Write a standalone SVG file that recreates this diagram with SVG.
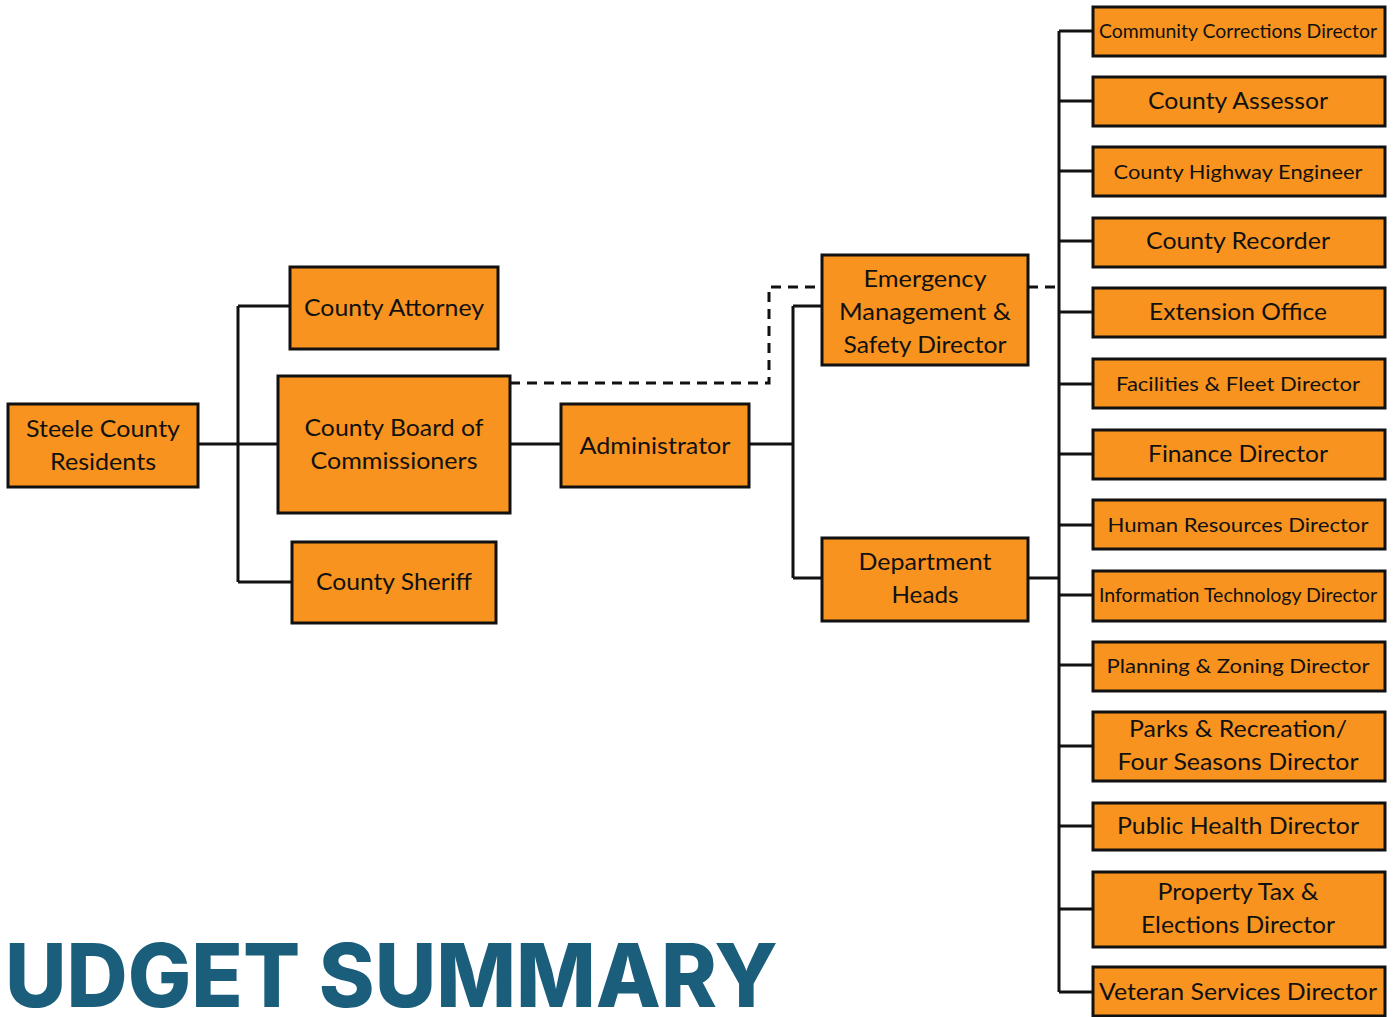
<svg xmlns="http://www.w3.org/2000/svg" width="1396" height="1017" viewBox="0 0 1396 1017">
<style>
.box{fill:#F8931F;stroke:#111;stroke-width:3}
.t{font-family:Lato,"Open Sans","Liberation Sans",sans-serif;font-size:24px;fill:#111;text-anchor:middle}
.s{font-size:20px}
.c{fill:none;stroke:#111;stroke-width:3}
.d{fill:none;stroke:#111;stroke-width:3;stroke-dasharray:10 7}
.title{font-family:Inter,"Open Sans","Liberation Sans",sans-serif;font-weight:800;font-size:88px;fill:#1A5E7C}
</style>
<rect width="1396" height="1017" fill="#fff"/>
<g id="connectors">
<path class="c" d="M198 444H278M238 306V582M238 306H290M238 582H292"/>
<path class="c" d="M510 444H561M749 444H793M793 306V578M793 306H822M793 578H822"/>
<path class="c" d="M1028 578H1059M1059 31V992"/>
<path class="c" d="M1059 31H1093M1059 101H1093M1059 171H1093M1059 241H1093M1059 312H1093M1059 384H1093M1059 454H1093M1059 525H1093M1059 595H1093M1059 665H1093M1059 746H1093M1059 826H1093M1059 909H1093M1059 992H1093"/>
<path class="d" d="M510 383H769V287H822M1028 287H1059"/>
</g>
<g id="residents"><rect class="box" x="8" y="404" width="190" height="83"/><text class="t" x="103" y="437" textLength="154" lengthAdjust="spacingAndGlyphs">Steele County</text><text class="t" x="103" y="470" textLength="106" lengthAdjust="spacingAndGlyphs">Residents</text></g>
<g id="attorney"><rect class="box" x="290" y="267" width="208" height="82"/><text class="t" x="394" y="316" textLength="180" lengthAdjust="spacingAndGlyphs">County Attorney</text></g>
<g id="board"><rect class="box" x="278" y="376" width="232" height="137"/><text class="t" x="394" y="436" textLength="179" lengthAdjust="spacingAndGlyphs">County Board of</text><text class="t" x="394" y="469" textLength="167" lengthAdjust="spacingAndGlyphs">Commissioners</text></g>
<g id="sheriff"><rect class="box" x="292" y="542" width="204" height="81"/><text class="t" x="394" y="590" textLength="156" lengthAdjust="spacingAndGlyphs">County Sheriff</text></g>
<g id="administrator"><rect class="box" x="561" y="404" width="188" height="83"/><text class="t" x="655" y="454" textLength="151" lengthAdjust="spacingAndGlyphs">Administrator</text></g>
<g id="emergency"><rect class="box" x="822" y="255" width="206" height="110"/><text class="t" x="925" y="287" textLength="123" lengthAdjust="spacingAndGlyphs">Emergency</text><text class="t" x="925" y="320" textLength="172" lengthAdjust="spacingAndGlyphs">Management &amp;</text><text class="t" x="925" y="353" textLength="163" lengthAdjust="spacingAndGlyphs">Safety Director</text></g>
<g id="depthead"><rect class="box" x="822" y="538" width="206" height="83"/><text class="t" x="925" y="570" textLength="133" lengthAdjust="spacingAndGlyphs">Department</text><text class="t" x="925" y="603" textLength="67" lengthAdjust="spacingAndGlyphs">Heads</text></g>
<g id="corrections"><rect class="box" x="1093" y="7" width="292" height="49"/><text class="t s" x="1238" y="38" textLength="278" lengthAdjust="spacingAndGlyphs">Community Corrections Director</text></g>
<g id="assessor"><rect class="box" x="1093" y="77" width="292" height="49"/><text class="t" x="1238" y="109" textLength="180" lengthAdjust="spacingAndGlyphs">County Assessor</text></g>
<g id="highway"><rect class="box" x="1093" y="147" width="292" height="49"/><text class="t s" x="1238" y="179" textLength="249" lengthAdjust="spacingAndGlyphs">County Highway Engineer</text></g>
<g id="recorder"><rect class="box" x="1093" y="218" width="292" height="49"/><text class="t" x="1238" y="249" textLength="184" lengthAdjust="spacingAndGlyphs">County Recorder</text></g>
<g id="extension"><rect class="box" x="1093" y="288" width="292" height="49"/><text class="t" x="1238" y="320" textLength="178" lengthAdjust="spacingAndGlyphs">Extension Office</text></g>
<g id="facilities"><rect class="box" x="1093" y="359" width="292" height="49"/><text class="t s" x="1238" y="391" textLength="244" lengthAdjust="spacingAndGlyphs">Facilities &amp; Fleet Director</text></g>
<g id="finance"><rect class="box" x="1093" y="430" width="292" height="49"/><text class="t" x="1238" y="462" textLength="180" lengthAdjust="spacingAndGlyphs">Finance Director</text></g>
<g id="hr"><rect class="box" x="1093" y="500" width="292" height="49"/><text class="t s" x="1238" y="532" textLength="261" lengthAdjust="spacingAndGlyphs">Human Resources Director</text></g>
<g id="it"><rect class="box" x="1093" y="571" width="292" height="50"/><text class="t s" x="1238" y="602" textLength="278" lengthAdjust="spacingAndGlyphs">Information Technology Director</text></g>
<g id="planning"><rect class="box" x="1093" y="642" width="292" height="49"/><text class="t s" x="1238" y="673" textLength="263" lengthAdjust="spacingAndGlyphs">Planning &amp; Zoning Director</text></g>
<g id="parks"><rect class="box" x="1093" y="712" width="292" height="69"/><text class="t" x="1238" y="737" textLength="218" lengthAdjust="spacingAndGlyphs">Parks &amp; Recreation/</text><text class="t" x="1238" y="770" textLength="241" lengthAdjust="spacingAndGlyphs">Four Seasons Director</text></g>
<g id="health"><rect class="box" x="1093" y="803" width="292" height="47"/><text class="t" x="1238" y="834" textLength="242" lengthAdjust="spacingAndGlyphs">Public Health Director</text></g>
<g id="propertytax"><rect class="box" x="1093" y="872" width="292" height="75"/><text class="t" x="1238" y="900" textLength="161" lengthAdjust="spacingAndGlyphs">Property Tax &amp;</text><text class="t" x="1238" y="933" textLength="194" lengthAdjust="spacingAndGlyphs">Elections Director</text></g>
<g id="veteran"><rect class="box" x="1093" y="967" width="292" height="49"/><text class="t" x="1238" y="1000" textLength="278" lengthAdjust="spacingAndGlyphs">Veteran Services Director</text></g>
<text class="title" x="5" y="1007" textLength="773" lengthAdjust="spacingAndGlyphs">UDGET SUMMARY</text>
</svg>
